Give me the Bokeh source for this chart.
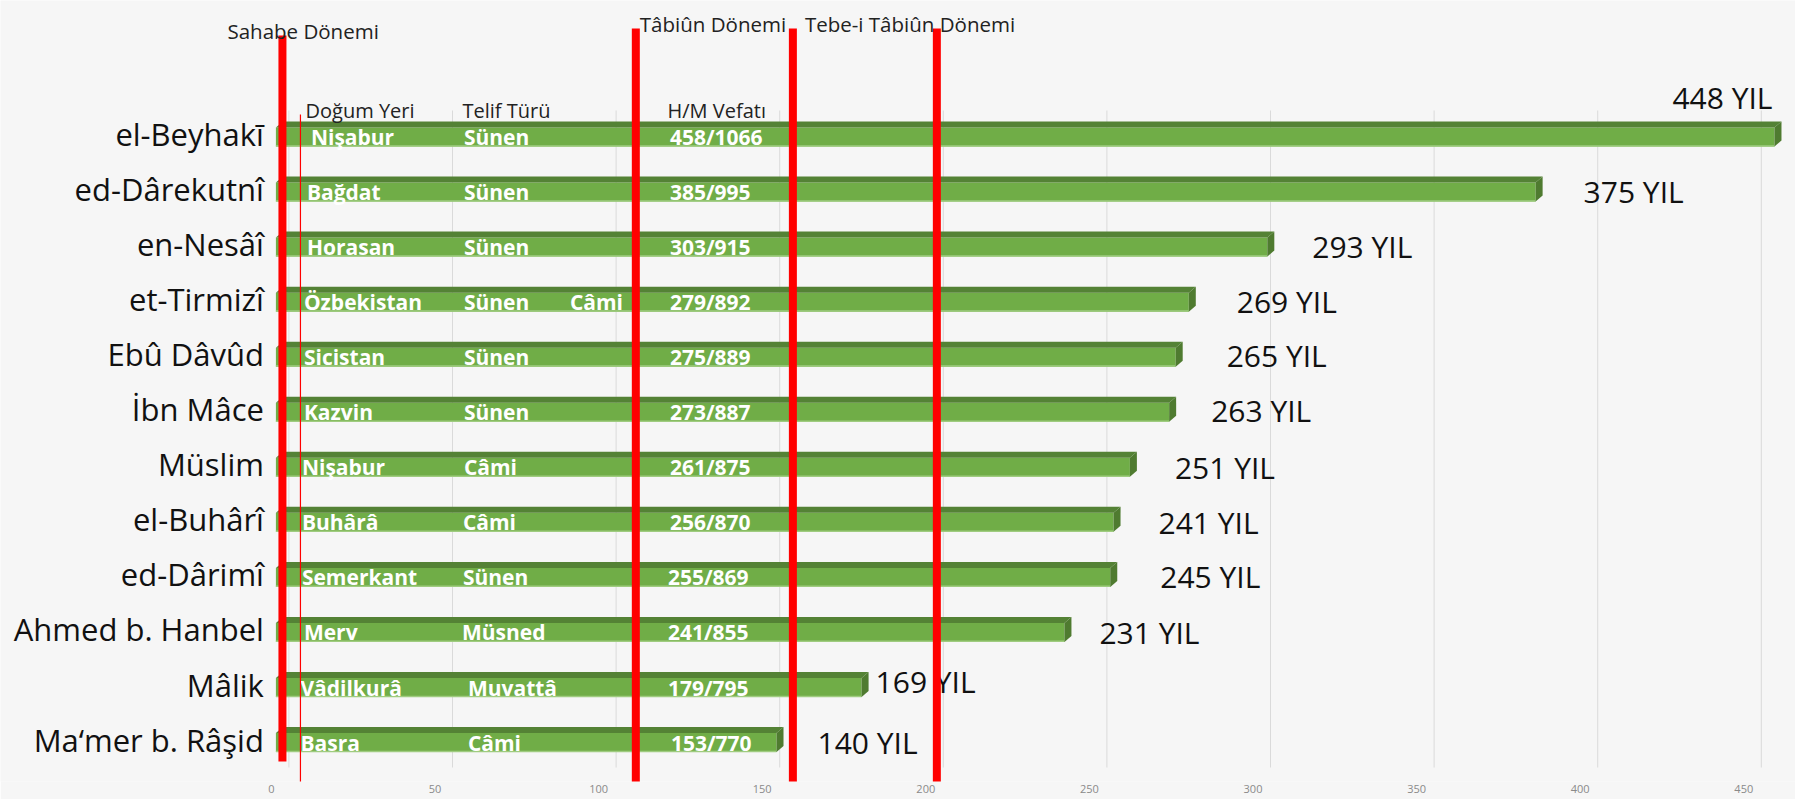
from bokeh.plotting import figure
from bokeh.models import ColumnDataSource, Range1d, LinearAxis, FixedTicker
from bokeh.core.properties import value
from bokeh.embed import file_html
from bokeh.resources import INLINE

# ---------------- data ----------------
names = ["el-Beyhakī", "ed-Dârekutnî", "en-Nesâî", "et-Tirmizî", "Ebû Dâvûd", "İbn Mâce",
         "Müslim", "el-Buhârî", "ed-Dârimî", "Ahmed b. Hanbel", "Mâlik", "Ma‘mer b. Râşid"]
birth_place = ["Nişabur", "Bağdat", "Horasan", "Özbekistan", "Sicistan", "Kazvin",
               "Nişabur", "Buhârâ", "Semerkant", "Merv", "Vâdilkurâ", "Basra"]
work_type = ["Sünen", "Sünen", "Sünen", "Sünen", "Sünen", "Sünen",
             "Câmi", "Câmi", "Sünen", "Müsned", "Muvattâ", "Câmi"]
work_type2 = ["", "", "", "Câmi", "", "", "", "", "", "", "", ""]
death_h = [458, 385, 303, 279, 275, 273, 261, 256, 255, 241, 179, 153]
death_m = [1066, 995, 915, 892, 889, 887, 875, 870, 869, 855, 795, 770]
years = [448, 375, 293, 269, 265, 263, 251, 241, 245, 231, 169, 140]
headers = ["Doğum Yeri", "Telif Türü", "H/M Vefatı"]
period_names = ["Sahabe Dönemi", "Tâbiûn Dönemi", "Tebe-i Tâbiûn Dönemi"]
period_lines = [2, 110, 158, 202]
thin_line = [7.5]
x_ticks = [0, 50, 100, 150, 200, 250, 300, 350, 400, 450]

# ---------------- layout (pixels) ----------------
W, H = 1795, 799
BORDER_B = 18
FRAME_H = H - BORDER_B
X0_PX = 275.4      # canvas x of value 0
PX_PER = 3.272     # pixels per unit
ROW0_PX = 133.5    # canvas y of first row centre
ROW_PX = 55.05     # row spacing

def row_at(py):
    return (py - ROW0_PX) / ROW_PX

x_start = -X0_PX / PX_PER
x_end = x_start + W / PX_PER
y_top = row_at(0)
y_bot = row_at(FRAME_H)

FONT = value("Open Sans")

p = figure(width=W, height=H, output_backend="svg", toolbar_location=None, title=None,
           x_range=Range1d(x_start, x_end), y_range=Range1d(start=y_bot, end=y_top),
           min_border_left=0, min_border_right=0, min_border_top=0,
           min_border_bottom=BORDER_B, x_axis_location=None, y_axis_location=None,
           background_fill_color="#f6f6f6", border_fill_color="#f6f6f6",
           outline_line_color=None)
p.xgrid.visible = False
p.ygrid.visible = False

# extra ranges: back wall (gridlines) and front (tick labels)
p.extra_x_ranges = {
    "back": Range1d(x_start - 13 / PX_PER, x_end - 13 / PX_PER),
    "front": Range1d(x_start + 4.5 / PX_PER, x_end + 4.5 / PX_PER),
}

rows = list(range(len(names)))
n = len(rows)

# x axis (front plane)
xax = LinearAxis(x_range_name="front", ticker=FixedTicker(ticks=x_ticks))
xax.axis_line_color = None
xax.major_tick_line_color = None
xax.minor_tick_line_color = None
xax.major_tick_out = 0
xax.major_tick_in = 0
xax.major_label_standoff = 3
xax.major_label_text_font = "Open Sans"
xax.major_label_text_font_size = "11px"
xax.major_label_text_color = "#8a8a8a"
p.add_layout(xax, "below")

# gridlines on back wall
p.segment(x0=x_ticks, x1=x_ticks, y0=[row_at(110)] * len(x_ticks), y1=[row_at(767)] * len(x_ticks),
          x_range_name="back", line_color="#dadada", line_width=1)

# bars (3D-ish)
bar_h = 25 / ROW_PX
stripe = 6 / ROW_PX
dv = 7 / PX_PER
tops = [r - bar_h / 2 for r in rows]
bots = [r + bar_h / 2 for r in rows]

p.quad(left=[0] * n, right=death_h, top=[t + stripe for t in tops], bottom=bots,
       fill_color="#70ad47", line_color=None)
p.segment(x0=[0] * n, x1=death_h, y0=[b - 0.6 / ROW_PX for b in bots],
          y1=[b - 0.6 / ROW_PX for b in bots], line_color="#9fcc80", line_width=1.5)
p.patches(xs=[[0, v, v + dv, dv] for v in death_h],
          ys=[[t + stripe, t + stripe, t, t] for t in tops],
          fill_color="#548235", line_color=None)
p.patches(xs=[[v, v + dv, v + dv, v] for v in death_h],
          ys=[[t + stripe, t, b - stripe, b] for t, b in zip(tops, bots)],
          fill_color="#4f7b30", line_color=None)

# author names (left labels)
p.text(x=[0] * n, y=rows, text=names, x_offset=-12, y_offset=0,
       text_color="#111111", text_font=FONT, text_font_size="31px",
       text_baseline="middle", text_align="right")

# inner texts
birth_dx = [35, 31, 31, 28, 28, 28, 26, 26, 26, 28, 24.5, 24.5]
type_dx = [188, 188, 188, 188, 188, 188, 188, 187, 187, 186, 192, 192]
hm_dx = [394, 394, 394, 394, 394, 394, 394, 394, 392, 392, 392, 395]
inner_text = birth_place + work_type + work_type2 + [f"{h}/{m}" for h, m in zip(death_h, death_m)]
inner_src = ColumnDataSource(dict(
    x=[0] * (4 * n),
    y=rows * 4,
    text=inner_text,
    dx=birth_dx + type_dx + [294] * n + hm_dx,
))
p.text(x="x", y="y", text="text", x_offset="dx", y_offset=3, source=inner_src,
       text_color="white", text_font=FONT, text_font_style="bold", text_font_size="21px",
       text_baseline="middle", text_align="left")

# column headers
p.text(x=[0] * 3, y=[row_at(110)] * 3, text=headers, x_offset=[29.6, 186.6, 391.6],
       text_color="#222222", text_font=FONT, text_font_size="20px",
       text_baseline="alphabetic", text_align="left")

# YIL labels
yil_dx = [-2, 48, 45, 48, 51, 42, 45, 45, 50, 35, 14, 41]
yil_dy = [-37, 2, 2, 2, 1, 1, 3, 3, 2, 3, -3, 3]
yil_align = ["right"] + ["left"] * (n - 1)
yil_src = ColumnDataSource(dict(x=death_h, y=rows, text=[f"{y} YIL" for y in years],
                                dx=yil_dx, dy=yil_dy, al=yil_align))
p.text(x="x", y="y", text="text", x_offset="dx", y_offset="dy", text_align="al",
       source=yil_src, text_color="#111111", text_font=FONT, text_font_size="30px",
       text_baseline="middle")

# red period lines
p.segment(x0=period_lines, x1=period_lines,
          y0=[row_at(35), row_at(28), row_at(28), row_at(28)],
          y1=[row_at(761), y_bot + 1, y_bot + 1, y_bot + 1],
          line_color="#ff0000", line_width=8)
p.segment(x0=thin_line, x1=thin_line, y0=[row_at(114)], y1=[y_bot + 1],
          line_color="#ff0000", line_width=1.2)

# period labels
p.text(x=period_lines[:3], y=[row_at(30), row_at(23), row_at(23)], text=period_names,
       x_offset=[-55, 4, 12], text_font=FONT, text_font_size="20.5px", text_color="#222222",
       text_baseline="alphabetic", text_align="left")

open("out.html", "w").write(file_html(p, INLINE))
